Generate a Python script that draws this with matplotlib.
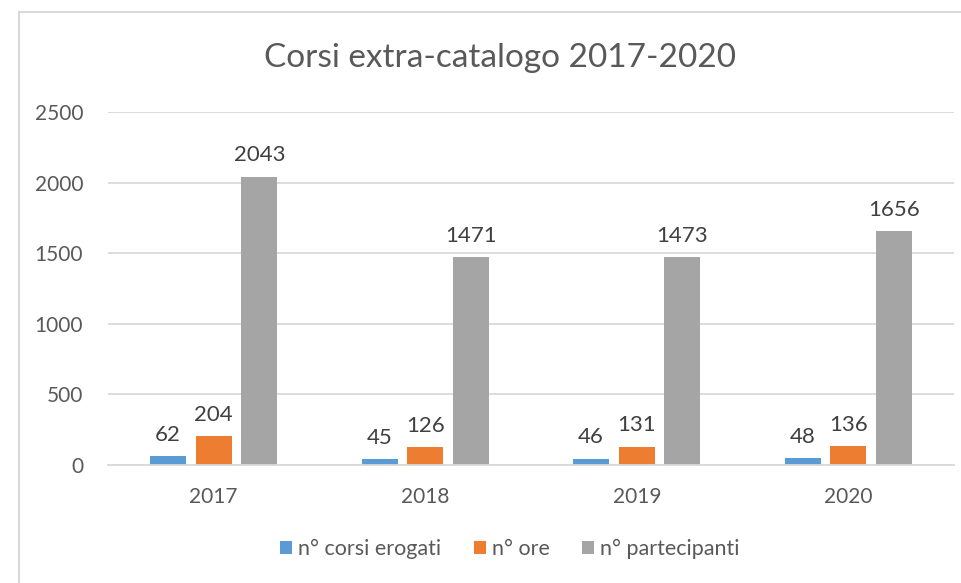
import numpy as np
import matplotlib
matplotlib.use("Agg")
import matplotlib.pyplot as plt
from matplotlib.lines import Line2D

plt.rcParams["font.family"] = ["Lato", "DejaVu Sans"]

# Data
years = ["2017", "2018", "2019", "2020"]
corsi = [62, 45, 46, 48]
ore = [204, 126, 131, 136]
partecipanti = [2043, 1471, 1473, 1656]

series = [
    ("n° corsi erogati", corsi, "#5B9BD5"),
    ("n° ore", ore, "#ED7D31"),
    ("n° partecipanti", partecipanti, "#A5A5A5"),
]

fig = plt.figure(figsize=(9.61, 5.83), dpi=100)
ax = fig.add_axes([108 / 961, 1 - 465 / 583, (954 - 108) / 961, (465 - 112) / 583])

x = np.arange(len(years))
width = 0.17
offset = 0.216
text_col = "#595959"

for i, (label, vals, color) in enumerate(series):
    pos = x + (i - 1) * offset
    bars = ax.bar(pos, vals, width, color=color, label=label, zorder=2)
    for b, v in zip(bars, vals):
        ax.annotate(str(v), (b.get_x() + b.get_width() / 2, v),
                    xytext=(0, 8), textcoords="offset points",
                    ha="center", va="bottom", fontsize=16, color="#404040")

ax.set_xlim(-0.5, 3.5)
ax.set_ylim(0, 2500)
ax.set_yticks(range(0, 2501, 500))
ax.set_xticks(x)
ax.set_xticklabels(years)
ax.yaxis.grid(True, color="#D9D9D9", linewidth=1.3, zorder=0)
ax.set_axisbelow(True)
for s in ["top", "right", "left"]:
    ax.spines[s].set_visible(False)
ax.spines["bottom"].set_color("#D9D9D9")
ax.spines["bottom"].set_linewidth(1.3)
ax.tick_params(axis="both", length=0, labelsize=15, labelcolor=text_col)
ax.tick_params(axis="x", pad=16)
ax.tick_params(axis="y", pad=18)

fig.suptitle("Corsi extra-catalogo 2017-2020", x=0.52, y=1 - 58 / 583,
             va="center", fontsize=24, color=text_col)

leg = fig.legend(loc="center", bbox_to_anchor=(510 / 961, 1 - 549 / 583),
                 ncol=3, frameon=False, fontsize=15.5, handlelength=0.55,
                 handleheight=0.55, handletextpad=0.3, columnspacing=1.5)
for t in leg.get_texts():
    t.set_color(text_col)

# chart border
fig.add_artist(Line2D([19 / 961, 1], [1 - 12 / 583, 1 - 12 / 583],
                      transform=fig.transFigure, color="#D9D9D9", linewidth=1.5))
fig.add_artist(Line2D([19 / 961, 19 / 961], [0, 1 - 12 / 583],
                      transform=fig.transFigure, color="#D9D9D9", linewidth=1.5))

fig.savefig("out.png", dpi=100)
